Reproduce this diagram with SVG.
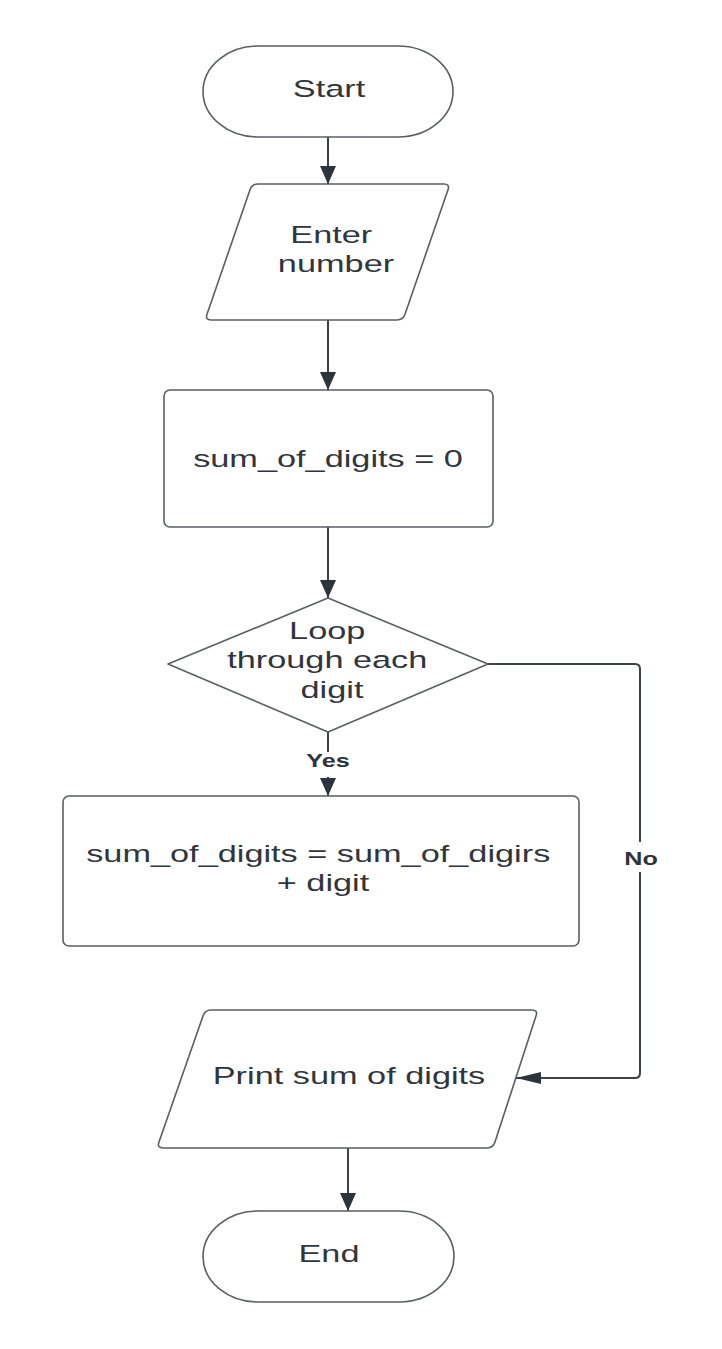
<svg xmlns="http://www.w3.org/2000/svg" width="722" height="1349" viewBox="0 0 722 1349">
  <style>
    .shape { fill: #ffffff; stroke: #5b5e62; stroke-width: 1.6; stroke-linejoin: round; }
    .conn { fill: none; stroke: #3c4248; stroke-width: 2; }
    .label { font-family: "Liberation Sans", Arial, sans-serif; font-size: 24.5px; fill: #30363c; text-anchor: middle; }
    .edge-label { font-family: "Liberation Sans", Arial, sans-serif; font-size: 18px; font-weight: bold; fill: #2e343a; text-anchor: middle; }
  </style>
  <defs>
    <!-- vertical arrowhead -->
    <marker id="arrow" markerUnits="userSpaceOnUse" markerWidth="18" markerHeight="16" refX="18" refY="8" orient="auto">
      <path d="M0,0 L18,8 L0,16 Z" fill="#2d343b"/>
    </marker>
    <!-- horizontal arrowhead (wider drawing aspect) -->
    <marker id="arrowWide" markerUnits="userSpaceOnUse" markerWidth="25" markerHeight="12" refX="25" refY="6" orient="auto">
      <path d="M0,0 L25,6 L0,12 Z" fill="#2d343b"/>
    </marker>
  </defs>

  <rect width="722" height="1349" fill="#ffffff"/>

  <!-- connectors -->
  <g id="connectors">
    <line class="conn" x1="328" y1="137" x2="328" y2="184" marker-end="url(#arrow)"/>
    <line class="conn" x1="328" y1="320" x2="328" y2="390" marker-end="url(#arrow)"/>
    <line class="conn" x1="328" y1="527" x2="328" y2="598" marker-end="url(#arrow)"/>
    <line class="conn" x1="328" y1="732" x2="328" y2="796" marker-end="url(#arrow)"/>
    <path class="conn" d="M488,664 H635 Q640,664 640,669 V1073 Q640,1078 635,1078 H516" marker-end="url(#arrowWide)"/>
    <line class="conn" x1="348" y1="1148" x2="348" y2="1211" marker-end="url(#arrow)"/>
    <!-- branch labels -->
    <rect x="300" y="752" width="56" height="25" fill="#ffffff"/>
    <text class="edge-label" transform="translate(328,0) scale(1.4,1)" x="0" y="767">Yes</text>
    <rect x="618" y="842" width="46" height="30" fill="#ffffff"/>
    <text class="edge-label" transform="translate(641,0) scale(1.4,1)" x="0" y="865">No</text>
  </g>

  <g id="start">
    <rect class="shape" x="203" y="46" width="250" height="91" rx="55" ry="45.5"/>
    <text class="label" transform="translate(329,0) scale(1.4,1)" x="0" y="97">Start</text>
  </g>

  <g id="enter-number">
    <path class="shape" d="M258,184 H444 Q450,184 448,189.7 L405,314.3 Q403,320 397,320 H211 Q205,320 207,314.3 L250,189.7 Q252,184 258,184 Z"/>
    <text class="label" transform="translate(336,0) scale(1.4,1)">
      <tspan x="0" y="243">Enter</tspan>
      <tspan x="0" y="272">number</tspan>
    </text>
  </g>

  <g id="init-sum">
    <rect class="shape" x="164" y="390" width="329" height="137" rx="6"/>
    <text class="label" transform="translate(328,0) scale(1.4,1)" x="0" y="467">sum_of_digits = 0</text>
  </g>

  <g id="loop">
    <polygon class="shape" points="328,598 488,664 328,732 168,664"/>
    <text class="label" transform="translate(332,0) scale(1.4,1)">
      <tspan x="0" y="639">Loop</tspan>
      <tspan x="0" y="668">through each</tspan>
      <tspan x="0" y="698">digit</tspan>
    </text>
  </g>

  <g id="add-digit">
    <rect class="shape" x="63" y="796" width="516" height="150" rx="6"/>
    <text class="label" transform="translate(323,0) scale(1.4,1)">
      <tspan x="0" y="862">sum_of_digits = sum_of_digirs</tspan>
      <tspan x="0" y="891">+ digit</tspan>
    </text>
  </g>

  <g id="print-sum">
    <path class="shape" d="M211,1010 H532 Q538,1010 536.1,1015.7 L494.9,1142.3 Q493,1148 487,1148 H163 Q157,1148 158.9,1142.3 L203.1,1015.7 Q205,1010 211,1010 Z"/>
    <text class="label" transform="translate(349,0) scale(1.4,1)" x="0" y="1084">Print sum of digits</text>
  </g>

  <g id="end">
    <rect class="shape" x="203" y="1211" width="251" height="91" rx="55" ry="45.5"/>
    <text class="label" transform="translate(329,0) scale(1.4,1)" x="0" y="1262">End</text>
  </g>
</svg>
